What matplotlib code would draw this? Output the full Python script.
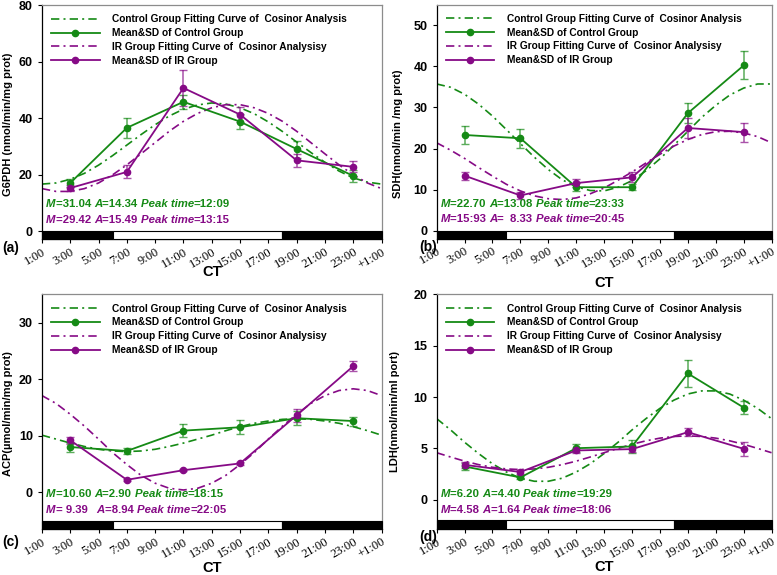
import numpy as np
import matplotlib
matplotlib.use('Agg')
from matplotlib import pyplot as plt
from matplotlib.patches import Rectangle
from matplotlib.lines import Line2D

plt.rcParams['font.family'] = 'Liberation Sans'
plt.rcParams['font.weight'] = 'bold'

GREEN = '#158a15'
PURPLE = '#860a86'
FIT_DASH = [5, 2.5, 1.2, 2.5]

# clock hours along the x axis (25 = +1:00)
hours = list(range(1, 26))
tick_hours = [1, 3, 5, 7, 9, 11, 13, 15, 17, 19, 21, 23, 25]
tick_labels = ['1:00', '3:00', '5:00', '7:00', '9:00', '11:00', '13:00', '15:00',
               '17:00', '19:00', '21:00', '23:00', '+1:00']
sample_hours = [3, 7, 11, 15, 19, 23]

# (a) G6PDH
g6pdh_ctrl_mean = [17.1, 36.6, 45.8, 38.8, 29.1, 19.6]
g6pdh_ctrl_sd = [1.5, 3.6, 2.5, 2.7, 3.0, 2.0]
g6pdh_ir_mean = [15.3, 21.0, 50.7, 41.3, 25.1, 22.8]
g6pdh_ir_sd = [1.0, 2.3, 6.3, 2.5, 2.3, 2.0]
g6pdh_ctrl_fit = [16.7, 17.1, 18.4, 20.5, 23.4, 26.8, 30.5, 34.2, 37.7, 40.8, 43.2, 44.7, 45.4,
                  45.0, 43.7, 41.6, 38.7, 35.3, 31.6, 27.9, 24.4, 21.3, 18.9, 17.4, 16.7]
g6pdh_ir_fit = [15.1, 14.1, 14.1, 15.1, 17.1, 20.0, 23.5, 27.4, 31.4, 35.4, 38.9, 41.7, 43.7,
                44.8, 44.8, 43.7, 41.7, 38.9, 35.4, 31.4, 27.4, 23.5, 20.0, 17.1, 15.1]

# (b) SDH
sdh_ctrl_mean = [23.3, 22.5, 10.6, 10.6, 28.6, 40.2]
sdh_ctrl_sd = [2.3, 2.3, 1.0, 0.7, 2.4, 3.4]
sdh_ir_mean = [13.4, 8.6, 11.6, 13.0, 25.0, 24.0]
sdh_ir_sd = [1.0, 0.8, 1.0, 1.2, 2.4, 2.3]
sdh_ctrl_fit = [35.7, 34.9, 33.2, 30.8, 27.9, 24.6, 21.2, 17.9, 14.9, 12.4, 10.7, 9.8, 9.7,
                10.6, 12.2, 14.6, 17.5, 20.8, 24.2, 27.6, 30.5, 33.0, 34.7, 35.7, 35.7]
sdh_ir_fit = [21.4, 19.6, 17.6, 15.4, 13.3, 11.3, 9.7, 8.5, 7.8, 7.6, 8.0, 9.0, 10.4,
              12.3, 14.3, 16.5, 18.6, 20.6, 22.2, 23.4, 24.1, 24.2, 23.8, 22.9, 21.4]

# (c) ACP
acp_ctrl_mean = [8.0, 7.3, 10.9, 11.5, 13.1, 12.6]
acp_ctrl_sd = [0.8, 0.5, 1.2, 1.2, 1.2, 0.8]
acp_ir_mean = [9.2, 2.2, 3.9, 5.1, 13.6, 22.3]
acp_ir_sd = [0.6, 0.2, 0.2, 0.3, 1.2, 0.9]
acp_ctrl_fit = [10.1, 9.4, 8.7, 8.1, 7.6, 7.3, 7.2, 7.3, 7.6, 8.1, 8.7, 9.4, 10.1,
                10.9, 11.6, 12.2, 12.6, 12.9, 13.0, 12.9, 12.6, 12.2, 11.6, 10.9, 10.1]
acp_ir_fit = [17.1, 15.7, 13.8, 11.7, 9.4, 7.0, 4.9, 3.0, 1.6, 0.7, 0.4, 0.7, 1.6,
              3.0, 4.9, 7.0, 9.4, 11.7, 13.8, 15.7, 17.1, 18.0, 18.3, 18.0, 17.1]

# (d) LDH
ldh_ctrl_mean = [3.24, 2.17, 5.02, 5.19, 12.3, 8.98]
ldh_ctrl_sd = [0.3, 0.15, 0.4, 0.6, 1.3, 0.6]
ldh_ir_mean = [3.4, 2.7, 4.8, 4.93, 6.58, 4.96]
ldh_ir_sd = [0.3, 0.2, 0.2, 0.3, 0.4, 0.7]
ldh_ctrl_fit = [7.9, 6.8, 5.6, 4.5, 3.5, 2.7, 2.1, 1.8, 1.8, 2.1, 2.7, 3.5, 4.5,
                5.6, 6.8, 7.9, 8.9, 9.7, 10.3, 10.6, 10.6, 10.3, 9.7, 8.9, 7.9]
ldh_ir_fit = [4.58, 4.16, 3.76, 3.42, 3.16, 3.00, 2.94, 3.00, 3.16, 3.42, 3.76, 4.16, 4.58,
              5.00, 5.40, 5.74, 6.00, 6.16, 6.22, 6.16, 6.00, 5.74, 5.40, 5.00, 4.58]

ctrl_stats = [('31.04', '14.34', '12:09'), ('22.70', '13.08', '23:33'),
              ('10.60', '2.90', '18:15'), ('6.20', '4.40', '19:29')]
ir_stats = [('29.42', '15.49', '13:15'), ('15:93', '  8.33', '20:45'),
            (' 9.39  ', '8.94', '22:05'), ('4.58', '1.64', '18:06')]

legend_labels = ['Control Group Fitting Curve of  Cosinor Analysis',
                 'Mean&SD of Control Group',
                 'IR Group Fitting Curve of  Cosinor Analysisy',
                 'Mean&SD of IR Group']

panels = [
    dict(name='(a)', ylabel='G6PDH (nmol/min/mg prot)', rect=[0.054, 0.584, 0.437, 0.407],
         ylim=(-2.8, 80), yticks=[0, 20, 40, 60, 80], bar=(-2.8, 0),
         data=(g6pdh_ctrl_fit, g6pdh_ctrl_mean, g6pdh_ctrl_sd, g6pdh_ir_fit, g6pdh_ir_mean, g6pdh_ir_sd),
         xlab_y=-0.14, ylab_x=-0.10, ylab_y=0.49, tag=(0.003, 0.569)),
    dict(name='(b)', ylabel='SDH(nmol/min /mg prot)', rect=[0.562, 0.585, 0.431, 0.407],
         ylim=(-1.9, 55), yticks=[0, 10, 20, 30, 40, 50], bar=(-1.9, 0),
         data=(sdh_ctrl_fit, sdh_ctrl_mean, sdh_ctrl_sd, sdh_ir_fit, sdh_ir_mean, sdh_ir_sd),
         xlab_y=-0.189, ylab_x=-0.115, ylab_y=0.45, tag=(0.540, 0.570)),
    dict(name='(c)', ylabel='ACP(\u00b5mol/min/mg prot)', rect=[0.054, 0.080, 0.437, 0.408],
         ylim=(-6.5, 35), yticks=[0, 10, 20, 30], bar=(-6.5, -5),
         data=(acp_ctrl_fit, acp_ctrl_mean, acp_ctrl_sd, acp_ir_fit, acp_ir_mean, acp_ir_sd),
         xlab_y=-0.165, ylab_x=-0.10, ylab_y=0.49, tag=(0.003, 0.058)),
    dict(name='(d)', ylabel='LDH(nmol/min/ml port)', rect=[0.562, 0.080, 0.431, 0.408],
         ylim=(-2.85, 20), yticks=[0, 5, 10, 15, 20], bar=(-2.85, -2),
         data=(ldh_ctrl_fit, ldh_ctrl_mean, ldh_ctrl_sd, ldh_ir_fit, ldh_ir_mean, ldh_ir_sd),
         xlab_y=-0.16, ylab_x=-0.124, ylab_y=0.5, tag=(0.540, 0.066)),
]


def chained_text(ax, x, y, pieces, color):
    '''write text pieces one after another, italic where asked'''
    prev = None
    for s, italic in pieces:
        style = 'italic' if italic else 'normal'
        if prev is None:
            prev = ax.text(x, y, s, transform=ax.transAxes, color=color, fontsize=8.2,
                           fontweight='bold', fontstyle=style, ha='left', va='center')
        else:
            prev = ax.annotate(s, xy=(1, 0.5), xycoords=prev, color=color, fontsize=8.2,
                               fontweight='bold', fontstyle=style, ha='left', va='center')


def stat_pieces(m, a, p):
    return [('M', True), ('=' + m + ' ', False), ('A', True), ('=' + a + ' ', False),
            ('Peak time', True), ('=' + p, False)]


fig = plt.figure(figsize=(7.77, 5.75), dpi=100)

for i, p in enumerate(panels):
    ax = fig.add_axes(p['rect'])
    cfit, cmean, csd, ifit, imean, isd = p['data']

    ax.plot(hours, cfit, color=GREEN, lw=1.2, dashes=FIT_DASH)
    eb = ax.errorbar(sample_hours, cmean, yerr=csd, color=GREEN, lw=1.3, marker='o', ms=4.5,
                     capsize=3, elinewidth=1.1)
    for c in eb[1] + eb[2]:
        c.set_alpha(0.7)
    ax.plot(hours, ifit, color=PURPLE, lw=1.2, dashes=FIT_DASH)
    eb = ax.errorbar(sample_hours, imean, yerr=isd, color=PURPLE, lw=1.3, marker='o', ms=4.5,
                     capsize=3, elinewidth=1.1)
    for c in eb[1] + eb[2]:
        c.set_alpha(0.7)

    # light / dark bar
    y0, y1 = p['bar']
    for start, end, col in [(1, 6, 'black'), (6, 18, 'white'), (18, 25, 'black')]:
        ax.add_patch(Rectangle((start, y0), end - start, y1 - y0, facecolor=col,
                               edgecolor='black', lw=0.8, zorder=3, clip_on=False))

    ax.set_xlim(1, 25)
    ax.set_ylim(*p['ylim'])
    ax.set_yticks(p['yticks'])
    ax.set_xticks(tick_hours)
    ax.set_xticklabels(tick_labels, rotation=30, ha='right', rotation_mode='anchor',
                       fontfamily='Liberation Serif', fontweight='normal', fontsize=9)
    ax.tick_params(axis='y', labelsize=9, length=3, width=0.8)
    ax.tick_params(axis='x', length=3, width=0.8, pad=2)
    for lab in ax.get_yticklabels():
        lab.set_fontweight('bold')

    for side in ['top', 'right']:
        ax.spines[side].set_color('#8c8c8c')
    for side in ax.spines:
        ax.spines[side].set_linewidth(0.9)

    ax.set_xlabel('CT', fontsize=10.5, fontweight='bold', va='center')
    ax.xaxis.set_label_coords(0.5, p['xlab_y'])
    ax.set_ylabel(p['ylabel'], fontsize=8, fontweight='bold', va='center')
    ax.yaxis.set_label_coords(p['ylab_x'], p['ylab_y'])

    handles = [Line2D([], [], color=GREEN, lw=1.2, dashes=FIT_DASH),
               Line2D([], [], color=GREEN, lw=1.3, marker='o', ms=4.5),
               Line2D([], [], color=PURPLE, lw=1.2, dashes=FIT_DASH),
               Line2D([], [], color=PURPLE, lw=1.3, marker='o', ms=4.5)]
    ax.legend(handles, legend_labels, loc='upper left', frameon=False, handlelength=4.8,
              handletextpad=1.2, labelspacing=0.38, borderaxespad=0.5, borderpad=0.4,
              prop={'weight': 'bold', 'size': 7.3})

    chained_text(ax, 0.012, 0.15, stat_pieces(*ctrl_stats[i]), GREEN)
    chained_text(ax, 0.012, 0.082, stat_pieces(*ir_stats[i]), PURPLE)

    fig.text(p['tag'][0], p['tag'][1], p['name'], fontsize=10, fontweight='bold',
             ha='left', va='center')

fig.savefig('out.png', dpi=100)
